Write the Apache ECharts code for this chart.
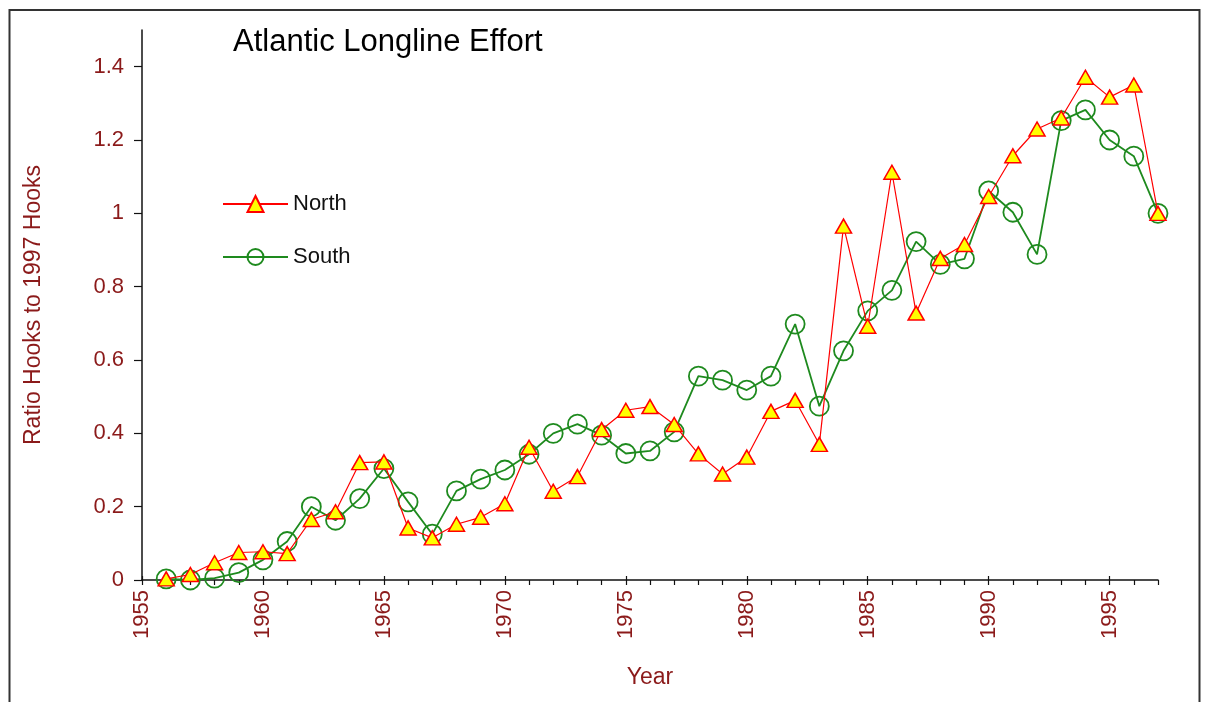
<!DOCTYPE html>
<html>
<head>
<meta charset="utf-8">
<script src="https://cdn.jsdelivr.net/npm/echarts@6/dist/echarts.min.js"></script>
<style>
  html, body { margin: 0; padding: 0; background: #fff; }
  #chart { width: 1207px; height: 702px; }
</style>
</head>
<body>
<div id="chart"></div>
<script>
// Atlantic longline effort, ratio of hooks to 1997 hooks
const FONT = '"Liberation Sans", Arial, sans-serif';
const RED_TXT = '#8b1a1a';

const years = [1956, 1957, 1958, 1959, 1960, 1961, 1962, 1963, 1964, 1965,
  1966, 1967, 1968, 1969, 1970, 1971, 1972, 1973, 1974, 1975,
  1976, 1977, 1978, 1979, 1980, 1981, 1982, 1983, 1984, 1985,
  1986, 1987, 1988, 1989, 1990, 1991, 1992, 1993, 1994, 1995,
  1996, 1997];
const north = [0.003, 0.015, 0.047, 0.075, 0.077, 0.072, 0.165, 0.186, 0.32, 0.322,
  0.142, 0.115, 0.152, 0.171, 0.208, 0.362, 0.242, 0.282, 0.41, 0.463,
  0.473, 0.424, 0.344, 0.289, 0.335, 0.46, 0.49, 0.37, 0.965, 0.692,
  1.112, 0.728, 0.877, 0.915, 1.046, 1.157, 1.23, 1.26, 1.371, 1.317,
  1.35, 1.0];
const south = [0.003, 0.0, 0.005, 0.02, 0.055, 0.105, 0.2, 0.163, 0.222, 0.304,
  0.213, 0.125, 0.243, 0.275, 0.30, 0.343, 0.40, 0.425, 0.395, 0.345,
  0.352, 0.404, 0.556, 0.545, 0.518, 0.556, 0.698, 0.474, 0.625, 0.734,
  0.79, 0.923, 0.861, 0.876, 1.061, 1.003, 0.888, 1.253, 1.282, 1.2,
  1.156, 1.0];
const xTicks = [1955, 1960, 1965, 1970, 1975, 1980, 1985, 1990, 1995];
const yTicks = [0, 0.2, 0.4, 0.6, 0.8, 1, 1.2, 1.4];

const pairs = (vals) => years.map((y, i) => [y, vals[i]]);

const axisLineStyle = { color: '#111', width: 1.5 };

const chart = echarts.init(document.getElementById('chart'), null, { renderer: 'canvas' });
chart.setOption({
  backgroundColor: '#fff',
  animation: false,
  textStyle: { fontFamily: FONT },
  title: {
    text: 'Atlantic Longline Effort', left: 228, top: 22,
    textStyle: { color: '#000', fontSize: 31, fontWeight: 'normal', fontFamily: FONT },
  },
  legend: {
    orient: 'vertical', left: 222, top: 193, padding: 0,
    itemWidth: 65, itemHeight: 20, itemGap: 31,
    textStyle: { color: '#111', fontSize: 22, fontFamily: FONT, lineHeight: 22 },
    data: ['North', 'South'],
  },
  grid: { left: 142, right: 49, top: 30, bottom: 122 },
  xAxis: [
    { // yearly minor ticks
      type: 'value', min: 1955, max: 1997, interval: 1,
      axisLine: { lineStyle: axisLineStyle },
      axisTick: { length: 5, lineStyle: { color: '#111', width: 1.2 } },
      axisLabel: { show: false },
      splitLine: { show: false },
    },
    { // five-year ticks with labels
      type: 'value', min: 1955, max: 1997, position: 'bottom',
      name: 'Year', nameLocation: 'middle', nameGap: 86,
      nameTextStyle: { color: RED_TXT, fontSize: 23, fontFamily: FONT },
      axisLine: { show: false },
      axisTick: { inside: true, length: 4, customValues: xTicks, lineStyle: { color: '#111', width: 1.2 } },
      axisLabel: {
        customValues: xTicks, rotate: 90, margin: 10,
        formatter: (v) => String(v),
        color: RED_TXT, fontSize: 22, fontFamily: FONT,
      },
      splitLine: { show: false },
    },
  ],
  yAxis: {
    type: 'value', min: 0, max: 1.5,
    name: 'Ratio Hooks to 1997 Hooks', nameLocation: 'middle', nameGap: 97,
    nameTextStyle: { color: RED_TXT, fontSize: 23, fontFamily: FONT },
    axisLine: { show: true, lineStyle: axisLineStyle },
    axisTick: { show: true, length: 8, customValues: yTicks, lineStyle: { color: '#111', width: 1.2 } },
    axisLabel: { customValues: yTicks, margin: 18, color: RED_TXT, fontSize: 22, fontFamily: FONT },
    splitLine: { show: false },
  },
  series: [
    {
      name: 'South', type: 'line', data: pairs(south), xAxisIndex: 0,
      symbol: 'circle', symbolSize: 19,
      lineStyle: { color: '#1e8a1e', width: 1.8 },
      itemStyle: { color: 'rgba(0,0,0,0)', borderColor: '#1e8a1e', borderWidth: 1.8 },
      z: 2,
    },
    {
      name: 'North', type: 'line', data: pairs(north), xAxisIndex: 0,
      symbol: 'triangle', symbolSize: [16, 14],
      lineStyle: { color: '#ff0000', width: 1.2 },
      itemStyle: { color: '#ffff00', borderColor: '#ff0000', borderWidth: 1.5 },
      z: 3,
    },
  ],
  graphic: [{
    type: 'rect', silent: true,
    shape: { x: 9.5, y: 10, width: 1190, height: 720 },
    style: { fill: 'none', stroke: '#333', lineWidth: 2 },
  }],
});
</script>
</body>
</html>
